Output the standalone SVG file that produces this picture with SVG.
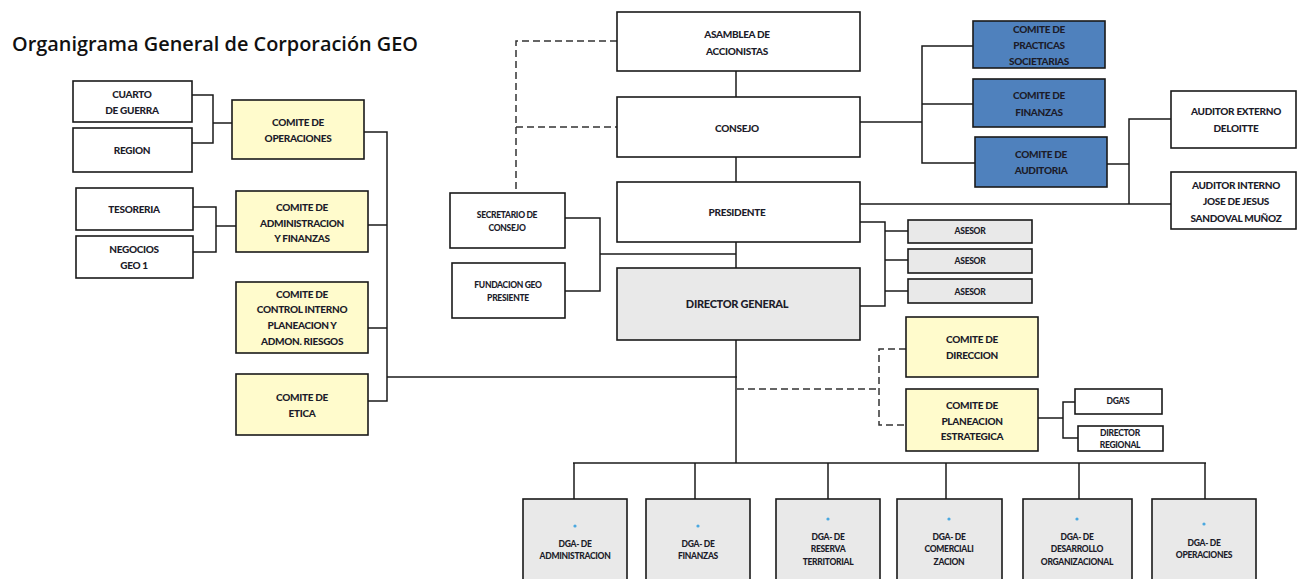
<svg xmlns="http://www.w3.org/2000/svg" width="1297" height="579" viewBox="0 0 1297 579">
<style>
.b{stroke:#1a1a1a;stroke-width:1.6;}
.w{fill:#ffffff;}
.y{fill:#fffbcc;}
.u{fill:#4f81bd;}
.g{fill:#e9e9e9;}
.t{font-family:Lato,"Liberation Sans",sans-serif;font-weight:900;font-size:10px;fill:#1c1c2a;text-anchor:middle;letter-spacing:-0.3px;}
.s{font-size:8.5px;}
.m{font-size:11px;}
.ln{fill:none;stroke:#1a1a1a;stroke-width:1.5;}
.dl{fill:none;stroke:#333333;stroke-width:1.5;stroke-dasharray:7,4;}
.dot{fill:#4aa8e0;}
</style>
<rect width="1297" height="579" fill="#ffffff"/>
<text x="12" y="51" font-family="'Open Sans','Liberation Sans',sans-serif" font-weight="600" font-size="20" fill="#111111" textLength="406" lengthAdjust="spacingAndGlyphs">Organigrama General de Corporación GEO</text>

<g id="connectors">
  <polyline class="ln" points="192,95 213,95 213,143 192,143"/>
  <line class="ln" x1="213" y1="123" x2="232" y2="123"/>
  <polyline class="ln" points="193,207 216,207 216,252 193,252"/>
  <line class="ln" x1="216" y1="226" x2="236" y2="226"/>
  <polyline class="ln" points="364,132 387,132 387,401 368,401"/>
  <line class="ln" x1="368" y1="225" x2="387" y2="225"/>
  <line class="ln" x1="368" y1="328" x2="387" y2="328"/>
  <line class="ln" x1="387" y1="377" x2="737" y2="377"/>
  <line class="ln" x1="736" y1="71" x2="736" y2="97"/>
  <line class="ln" x1="736" y1="157" x2="736" y2="182"/>
  <line class="ln" x1="736" y1="242" x2="736" y2="268"/>
  <line class="ln" x1="736" y1="340" x2="736" y2="463"/>
  <polyline class="dl" points="617,41 516,41 516,193"/>
  <line class="dl" x1="516" y1="127" x2="617" y2="127"/>
  <polyline class="ln" points="565,218 600,218 600,291 565,291"/>
  <line class="ln" x1="600" y1="254" x2="736" y2="254"/>
  <line class="ln" x1="860" y1="122" x2="922" y2="122"/>
  <polyline class="ln" points="973,46 922,46 922,163 975,163"/>
  <line class="ln" x1="922" y1="104" x2="973" y2="104"/>
  <line class="ln" x1="1107" y1="164" x2="1129" y2="164"/>
  <polyline class="ln" points="1171,119 1129,119 1129,204"/>
  <line class="ln" x1="860" y1="204" x2="1171" y2="204"/>
  <polyline class="ln" points="860,222 885,222 885,306 860,306"/>
  <line class="ln" x1="885" y1="231" x2="908" y2="231"/>
  <line class="ln" x1="885" y1="260" x2="908" y2="260"/>
  <line class="ln" x1="885" y1="291" x2="908" y2="291"/>
  <line class="dl" x1="737" y1="389" x2="876" y2="389"/>
  <polyline class="dl" points="906,349 879,349 879,425 906,425"/>
  <line class="ln" x1="1038" y1="418" x2="1063" y2="418"/>
  <polyline class="ln" points="1075,402 1063,402 1063,438 1078,438"/>
  <line class="ln" x1="573" y1="463" x2="1206" y2="463"/>
  <line class="ln" x1="574" y1="463" x2="574" y2="499"/>
  <line class="ln" x1="695" y1="463" x2="695" y2="499"/>
  <line class="ln" x1="828" y1="463" x2="828" y2="499"/>
  <line class="ln" x1="946" y1="463" x2="946" y2="499"/>
  <line class="ln" x1="1079" y1="463" x2="1079" y2="499"/>
  <line class="ln" x1="1205" y1="463" x2="1205" y2="499"/>
</g>

<g id="cuarto"><rect class="b w" x="73" y="81" width="119" height="41"/><text class="t" x="132" y="98">CUARTO</text><text class="t" x="132" y="114">DE GUERRA</text></g>
<g id="region"><rect class="b w" x="73" y="128" width="119" height="44"/><text class="t" x="132" y="154">REGION</text></g>
<g id="comite-operaciones"><rect class="b y" x="232" y="100" width="132" height="59"/><text class="t" x="298" y="126">COMITE DE</text><text class="t" x="298" y="142">OPERACIONES</text></g>
<g id="tesoreria"><rect class="b w" x="76" y="188" width="117" height="42"/><text class="t" x="134" y="213">TESORERIA</text></g>
<g id="negocios"><rect class="b w" x="76" y="236" width="117" height="42"/><text class="t" x="134" y="253">NEGOCIOS</text><text class="t" x="134" y="269">GEO 1</text></g>
<g id="comite-admin"><rect class="b y" x="236" y="191" width="132" height="61"/><text class="t" x="302" y="211">COMITE DE</text><text class="t" x="302" y="227">ADMINISTRACION</text><text class="t" x="302" y="242">Y FINANZAS</text></g>
<g id="comite-control"><rect class="b y" x="236" y="282" width="132" height="71"/><text class="t" x="302" y="298">COMITE DE</text><text class="t" x="302" y="313">CONTROL INTERNO</text><text class="t" x="302" y="329">PLANEACION Y</text><text class="t" x="302" y="345">ADMON. RIESGOS</text></g>
<g id="comite-etica"><rect class="b y" x="236" y="374" width="132" height="61"/><text class="t" x="302" y="401">COMITE DE</text><text class="t" x="302" y="417">ETICA</text></g>

<g id="asamblea"><rect class="b w" x="617" y="12" width="243" height="59"/><text class="t" x="737" y="38">ASAMBLEA DE</text><text class="t" x="737" y="55">ACCIONISTAS</text></g>
<g id="consejo"><rect class="b w" x="617" y="97" width="243" height="60"/><text class="t" x="737" y="132">CONSEJO</text></g>
<g id="presidente"><rect class="b w" x="617" y="182" width="243" height="60"/><text class="t" x="737" y="216">PRESIDENTE</text></g>
<g id="director-general"><rect class="b g" x="617" y="268" width="243" height="72"/><text class="t m" x="737" y="308">DIRECTOR GENERAL</text></g>
<g id="secretario"><rect class="b w" x="450" y="193" width="115" height="55"/><text class="t s" x="507" y="218">SECRETARIO DE</text><text class="t s" x="507" y="231">CONSEJO</text></g>
<g id="fundacion"><rect class="b w" x="452" y="263" width="113" height="55"/><text class="t s" x="508" y="288">FUNDACION GEO</text><text class="t s" x="508" y="301">PRESIENTE</text></g>

<g id="comite-practicas"><rect class="b u" x="973" y="21" width="132" height="47"/><text class="t" x="1039" y="33">COMITE DE</text><text class="t" x="1039" y="49">PRACTICAS</text><text class="t" x="1039" y="65">SOCIETARIAS</text></g>
<g id="comite-finanzas"><rect class="b u" x="973" y="79" width="132" height="48"/><text class="t" x="1039" y="99">COMITE DE</text><text class="t" x="1039" y="116">FINANZAS</text></g>
<g id="comite-auditoria"><rect class="b u" x="975" y="137" width="132" height="50"/><text class="t" x="1041" y="158">COMITE DE</text><text class="t" x="1041" y="174">AUDITORIA</text></g>
<g id="auditor-externo"><rect class="b w" x="1171" y="91" width="125" height="57"/><text class="t" x="1236" y="115">AUDITOR EXTERNO</text><text class="t" x="1236" y="132">DELOITTE</text></g>
<g id="auditor-interno"><rect class="b w" x="1171" y="172" width="125" height="57"/><text class="t" x="1236" y="189">AUDITOR INTERNO</text><text class="t" x="1236" y="205">JOSE DE JESUS</text><text class="t" x="1236" y="222">SANDOVAL MUÑOZ</text></g>

<g id="asesor1"><rect class="b g" x="908" y="220" width="124" height="23"/><text class="t s" x="970" y="234">ASESOR</text></g>
<g id="asesor2"><rect class="b g" x="908" y="249" width="124" height="24"/><text class="t s" x="970" y="264">ASESOR</text></g>
<g id="asesor3"><rect class="b g" x="908" y="279" width="124" height="24"/><text class="t s" x="970" y="295">ASESOR</text></g>

<g id="comite-direccion"><rect class="b y" x="906" y="317" width="132" height="60"/><text class="t" x="972" y="343">COMITE DE</text><text class="t" x="972" y="359">DIRECCION</text></g>
<g id="comite-planeacion"><rect class="b y" x="906" y="389" width="132" height="62"/><text class="t" x="972" y="409">COMITE DE</text><text class="t" x="972" y="425">PLANEACION</text><text class="t" x="972" y="440">ESTRATEGICA</text></g>
<g id="dgas"><rect class="b w" x="1075" y="389" width="87" height="25"/><text class="t s" x="1118" y="404">DGA'S</text></g>
<g id="director-regional"><rect class="b w" x="1078" y="426" width="85" height="25"/><text class="t s" x="1120" y="436">DIRECTOR</text><text class="t s" x="1120" y="448">REGIONAL</text></g>

<g id="dga-administracion"><rect class="b g" x="523" y="499" width="104" height="100"/><circle class="dot" cx="575" cy="526" r="1.6"/><text class="t s" x="575" y="547">DGA- DE</text><text class="t s" x="575" y="559">ADMINISTRACION</text></g>
<g id="dga-finanzas"><rect class="b g" x="646" y="499" width="104" height="100"/><circle class="dot" cx="698" cy="526" r="1.6"/><text class="t s" x="698" y="547">DGA- DE</text><text class="t s" x="698" y="559">FINANZAS</text></g>
<g id="dga-reserva"><rect class="b g" x="776" y="499" width="104" height="100"/><circle class="dot" cx="828" cy="519" r="1.6"/><text class="t s" x="828" y="540">DGA- DE</text><text class="t s" x="828" y="552">RESERVA</text><text class="t s" x="828" y="565">TERRITORIAL</text></g>
<g id="dga-comercializacion"><rect class="b g" x="897" y="499" width="105" height="100"/><circle class="dot" cx="949" cy="519" r="1.6"/><text class="t s" x="949" y="540">DGA- DE</text><text class="t s" x="949" y="552">COMERCIALI</text><text class="t s" x="949" y="565">ZACION</text></g>
<g id="dga-desarrollo"><rect class="b g" x="1023" y="499" width="109" height="100"/><circle class="dot" cx="1077" cy="519" r="1.6"/><text class="t s" x="1077" y="540">DGA- DE</text><text class="t s" x="1077" y="552">DESARROLLO</text><text class="t s" x="1077" y="565">ORGANIZACIONAL</text></g>
<g id="dga-operaciones"><rect class="b g" x="1152" y="499" width="104" height="100"/><circle class="dot" cx="1204" cy="524" r="1.6"/><text class="t s" x="1204" y="546">DGA- DE</text><text class="t s" x="1204" y="558">OPERACIONES</text></g>
</svg>
